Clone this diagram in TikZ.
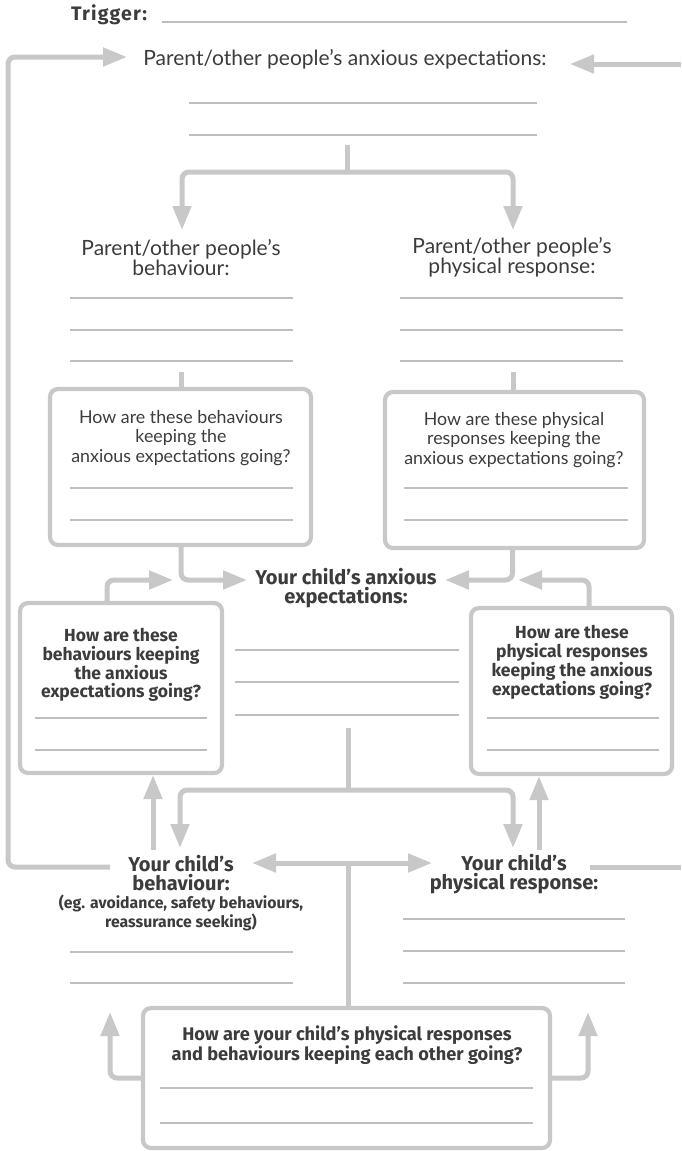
\documentclass[tikz,border=0pt]{standalone}
\usepackage{fontspec}
\setmainfont{Lato}
\newfontfamily\hvy{Fira Sans}
\newfontfamily\trigfont{Fira Sans}[LetterSpace=6]
\usetikzlibrary{arrows.meta}
\definecolor{lnk}{HTML}{C8C8C8}
\definecolor{rulec}{HTML}{BEBEBE}
\definecolor{ink}{HTML}{3C3C3C}
\tikzset{
  link/.style={draw=lnk, line width=5pt, rounded corners=7pt},
  tip/.style={link, -{Triangle[length=24pt,width=18pt]}},
  dtip/.style={link, {Triangle[length=24pt,width=18pt]}-{Triangle[length=24pt,width=18pt]}},
  blank/.style={draw=rulec, line width=1.8pt},
  panel/.style={draw=lnk, line width=4.2pt, rounded corners=8pt, inner sep=0pt},
  lab/.style={text=ink, align=center, inner sep=0pt, font=\fontsize{21}{20.5}\selectfont},
  boxlab/.style={text=ink, align=center, inner sep=0pt, font=\fontsize{17.8}{19.5}\selectfont},
  blab/.style={text=ink, align=center, inner sep=0pt, font=\hvy\fontsize{20}{19.5}\selectfont\bfseries},
  sblab/.style={text=ink, align=center, inner sep=0pt, font=\hvy\fontsize{17.5}{18.8}\selectfont\bfseries},
  xsblab/.style={text=ink, align=center, inner sep=0pt, font=\hvy\fontsize{15.8}{19}\selectfont\bfseries},
  botlab/.style={text=ink, align=center, inner sep=0pt, font=\hvy\fontsize{18.2}{20}\selectfont\bfseries},
}
\begin{document}
\begin{tikzpicture}[x=1pt,y=-1pt]
\useasboundingbox (0,0) rectangle (681,1151);
\fill[white] (0,0) rectangle (681,1151);

% trigger
\node[text=ink, inner sep=0pt, font=\trigfont\fontsize{19.5}{20}\selectfont\bfseries] (trig) at (109,15) {Trigger:};
\draw[blank] (162,22) -- (627,22);

% parent anxious expectations
\node[lab] (pax) at (345,59) {Parent/other people’s anxious expectations:};
\draw[blank] (189,103) -- (537,103);
\draw[blank] (189,135) -- (537,135);

% outer loop
\coordinate (loopend) at (110,867);
\coordinate (looptip) at (127,57);
\draw[tip] (loopend) -- (8,867) -- (8,57) -- (looptip);
\coordinate (redge1) at (681,64);
\coordinate (rtip1) at (570,64);
\draw[tip] (redge1) -- (rtip1);
\coordinate (redge2) at (681,867);
\coordinate (rstart2) at (590,867);
\draw[link] (rstart2) -- (redge2);

% fork 1
\coordinate (s1) at (347,145);
\coordinate (f1) at (347,172);
\coordinate (t1l) at (182,230);
\coordinate (t1r) at (513,230);
\draw[link] (s1) -- (f1);
\draw[tip] (f1) -| (t1l);
\draw[tip] (f1) -| (t1r);

% parent labels
\node[lab] (pb) at (181,257.5) {Parent/other people’s\\behaviour:};
\node[lab] (pp) at (512,257.5) {Parent/other people’s\\physical response:};
\foreach \yy in {298,330,361}{
  \draw[blank] (70,\yy) -- (293,\yy);
  \draw[blank] (400,\yy) -- (623,\yy);
}

% parent boxes
\node[panel, minimum width=261pt, minimum height=156pt] (bl1) at (180.5,467) {};
\node[panel, minimum width=259pt, minimum height=156pt] (br1) at (514.5,470) {};
\coordinate (s2l) at (181,372);
\coordinate (s2r) at (513,372);
\draw[link] (s2l) -- (s2l |- bl1.north);
\draw[link] (s2r) -- (s2r |- br1.north);
\node[boxlab] (bl1t) at (181,438) {How are these behaviours\\keeping the\\anxious expectations going?};
\node[boxlab] (br1t) at (514,440) {How are these physical\\responses keeping the\\anxious expectations going?};
\foreach \yy in {488,520}{
  \draw[blank] (70,\yy) -- (293,\yy);
  \draw[blank] (404,\yy) -- (628,\yy);
}

% child's anxious expectations
\node[blab] (ca) at (346,588) {Your child’s anxious\\expectations:};
\coordinate (catl) at (247,580);
\coordinate (catr) at (445,580);
\coordinate (casl) at (173,580);
\coordinate (casr) at (518,580);
\draw[tip] ([xshift=0.5pt]bl1.south) |- (catl);
\draw[tip] ([xshift=-2pt]br1.south) |- (catr);

% child boxes (second row)
\node[panel, minimum width=202pt, minimum height=170pt] (bl2) at (121,688) {};
\node[panel, minimum width=201pt, minimum height=166pt] (br2) at (571.5,691) {};
\draw[tip] ([xshift=-14pt]bl2.north) |- (casl);
\draw[tip] ([xshift=17.5pt]br2.north) |- (casr);
\node[sblab] (bl2t) at (121,665) {How are these\\behaviours keeping\\the anxious\\expectations going?};
\node[sblab] (br2t) at (572,662.5) {How are these\\physical responses\\keeping the anxious\\expectations going?};
\foreach \yy in {718,750}{
  \draw[blank] (35,\yy) -- (207,\yy);
  \draw[blank] (487,\yy) -- (659,\yy);
}
\foreach \yy in {650,682,715}{
  \draw[blank] (235,\yy) -- (459,\yy);
}

% fork 2
\coordinate (s3) at (348,728);
\coordinate (f3) at (348,790);
\coordinate (t3l) at (180,848);
\coordinate (t3r) at (513,848);
\draw[link] (s3) -- (f3);
\draw[tip] (f3) -| (t3l);
\draw[tip] (f3) -| (t3r);
\coordinate (u1) at (153,850);
\coordinate (u2) at (539,850);
\draw[tip] (u1) -- (u1 |- bl2.south);
\draw[tip] (u2) -- (u2 |- br2.south);

% child's behaviour / physical response
\node[blab] (cb) at (181,873) {Your child’s\\behaviour:};
\node[xsblab] (cbe) at (181,912.5) {(eg. avoidance, safety behaviours,\\reassurance seeking)};
\node[blab] (cp) at (514,874) {Your child’s\\physical response:};
\coordinate (dl) at (252,863);
\coordinate (dr) at (432,863);
\coordinate (dm) at (348,863);
\draw[dtip] (dl) -- (dr);
\foreach \yy in {952,983}{
  \draw[blank] (70,\yy) -- (293,\yy);
}
\foreach \yy in {919,951,983}{
  \draw[blank] (403,\yy) -- (625,\yy);
}

% bottom box
\node[panel, minimum width=407pt, minimum height=140pt] (bb) at (346.5,1078) {};
\draw[link] (dm) -- (dm |- bb.north);
\node[botlab] (bbt) at (347,1045) {How are your child’s physical responses\\and behaviours keeping each other going?};
\draw[blank] (160,1088) -- (533,1088);
\draw[blank] (160,1123) -- (533,1123);
\coordinate (bul) at (110,1012);
\coordinate (bur) at (588,1012);
\draw[tip] (bb.west) -| (bul);
\draw[tip] (bb.east) -| (bur);
\end{tikzpicture}
\end{document}
